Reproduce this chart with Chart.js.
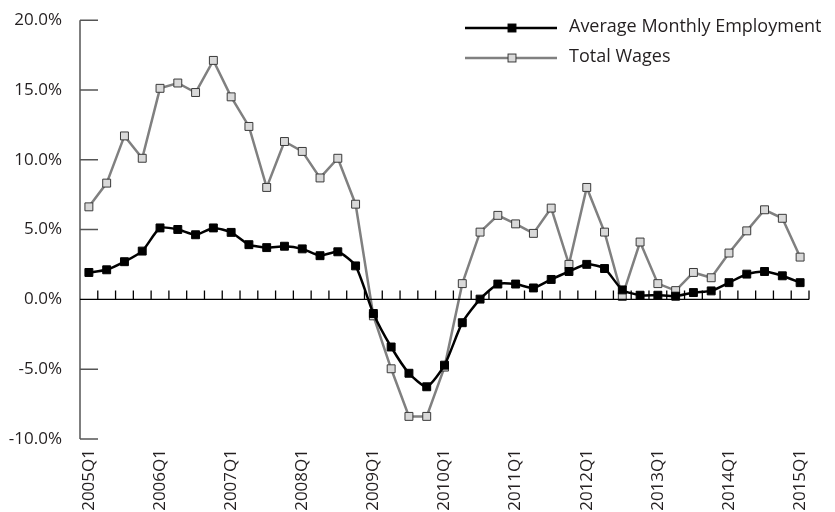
<!DOCTYPE html>
<html>
<head>
<meta charset="utf-8">
<script src="https://cdn.jsdelivr.net/npm/chart.js@4"></script>
<style>
  html, body { margin: 0; padding: 0; background: #fff; }
  #wrap { width: 835px; height: 512px; }
</style>
</head>
<body>
<div id="wrap"><canvas id="myChart" width="835" height="512"></canvas></div>
<script>
// quarters 2005Q1 .. 2015Q1
const quarters = [];
for (let y = 2005; y <= 2015; y++) {
  for (let q = 1; q <= 4; q++) {
    if (y === 2015 && q > 1) break;
    quarters.push(y + 'Q' + q);
  }
}

const employment = [1.93, 2.12, 2.70, 3.46, 5.12, 5.01, 4.63, 5.12, 4.80, 3.92, 3.71, 3.81, 3.62, 3.13, 3.41, 2.40,
  -1.01, -3.41, -5.29, -6.26, -4.71, -1.67, 0.02, 1.10, 1.10, 0.82, 1.43, 2.00, 2.51, 2.21, 0.68, 0.30,
  0.30, 0.23, 0.49, 0.61, 1.20, 1.81, 2.00, 1.69, 1.20];

const wages = [6.63, 8.33, 11.71, 10.11, 15.12, 15.50, 14.82, 17.12, 14.51, 12.39, 8.02, 11.31, 10.60, 8.70, 10.11, 6.82,
  -1.18, -4.97, -8.38, -8.38, -4.85, 1.13, 4.82, 6.02, 5.41, 4.73, 6.54, 2.51, 8.02, 4.82, 0.21, 4.11,
  1.13, 0.63, 1.93, 1.55, 3.32, 4.91, 6.42, 5.81, 3.03];

const yTicks = [-10, -5, 0, 5, 10, 15, 20];

const FONT = '"Open Sans", "Noto Sans", sans-serif';
const TEXT = '#231f20';

// inward ticks on the y axis, small ticks above the zero line, plus the legend
const decor = {
  id: 'decor',
  afterDatasetsDraw(chart) {
    const { ctx, chartArea, scales } = chart;
    const x = scales.x, y = scales.y;
    ctx.save();
    // y axis line
    ctx.strokeStyle = '#555';
    ctx.lineWidth = 1.5;
    ctx.beginPath();
    ctx.moveTo(chartArea.left, y.getPixelForValue(20));
    ctx.lineTo(chartArea.left, y.getPixelForValue(-10));
    yTicks.forEach(v => {
      if (v === 0) return;
      const py = y.getPixelForValue(v);
      ctx.moveTo(chartArea.left, py);
      ctx.lineTo(chartArea.left + 18, py);
    });
    ctx.stroke();
    // zero line and minor ticks
    const zy = y.getPixelForValue(0);
    ctx.strokeStyle = '#000';
    ctx.lineWidth = 1.3;
    ctx.beginPath();
    ctx.moveTo(chartArea.left, zy);
    ctx.lineTo(chartArea.right, zy);
    const half = (x.getPixelForValue(1) - x.getPixelForValue(0)) / 2;
    for (let i = 0; i < quarters.length; i++) {
      const px = x.getPixelForValue(i) + half;
      ctx.moveTo(px, zy);
      ctx.lineTo(px, zy - 9);
    }
    ctx.stroke();

    // legend
    ctx.font = '18px ' + FONT;
    ctx.textBaseline = 'middle';
    chart.data.datasets.forEach((ds, i) => {
      const ly = 28 + i * 30;
      ctx.strokeStyle = ds.borderColor;
      ctx.lineWidth = ds.borderWidth;
      ctx.beginPath();
      ctx.moveTo(465, ly);
      ctx.lineTo(557, ly);
      ctx.stroke();
      const s = ds.pointRadius * Math.SQRT1_2;
      ctx.fillStyle = ds.pointBackgroundColor;
      ctx.fillRect(512 - s, ly - s, 2 * s, 2 * s);
      ctx.strokeStyle = ds.pointBorderColor;
      ctx.lineWidth = 1;
      ctx.strokeRect(512 - s, ly - s, 2 * s, 2 * s);
      ctx.fillStyle = TEXT;
      ctx.fillText(ds.label, 569, ly - 1);
    });
    ctx.restore();
  }
};

const ctx = document.getElementById('myChart').getContext('2d');

const myChart = new Chart(ctx, {
  type: 'line',
  data: {
    labels: quarters,
    datasets: [{
      label: 'Average Monthly Employment',
      data: employment,
      borderColor: '#000',
      borderWidth: 2.5,
      pointStyle: 'rect',
      pointRadius: 5.6,
      pointBackgroundColor: '#000',
      pointBorderColor: '#000',
      pointBorderWidth: 1,
      tension: 0.2,
      order: 1
    }, {
      label: 'Total Wages',
      data: wages,
      borderColor: '#808080',
      borderWidth: 2.5,
      pointStyle: 'rect',
      pointRadius: 5.6,
      pointBackgroundColor: '#d9d9d9',
      pointBorderColor: '#3a3a3a',
      pointBorderWidth: 1,
      tension: 0,
      order: 2
    }]
  },
  options: {
    responsive: false,
    animation: false,
    scales: {
      x: {
        offset: true,
        grid: { display: false },
        border: { display: false },
        ticks: {
          autoSkip: false,
          minRotation: 90,
          maxRotation: 90,
          padding: 2,
          color: TEXT,
          font: { family: FONT, size: 17 },
          callback: (v, i) => (i % 4 === 0 ? quarters[i] : '')
        },
        afterFit: (s) => { s.height = 73; }
      },
      y: {
        min: -10,
        max: 20,
        afterBuildTicks: (s) => { s.ticks = yTicks.map(v => ({ value: v })); },
        grid: { display: false },
        border: { display: false },
        ticks: {
          padding: 10,
          color: TEXT,
          font: { family: FONT, size: 17 },
          callback: (v) => v.toFixed(1) + '%'
        },
        afterFit: (s) => { s.width = 80; }
      }
    },
    plugins: {
      legend: { display: false },
      tooltip: { enabled: false }
    },
    layout: {
      padding: { left: 0, right: 26, top: 14, bottom: 0 }
    }
  },
  plugins: [decor]
});
</script>
</body>
</html>
